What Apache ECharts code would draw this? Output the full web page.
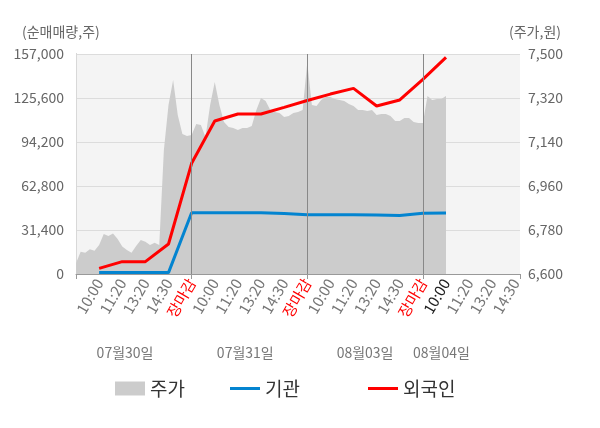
<!DOCTYPE html>
<html>
<head>
<meta charset="utf-8">
<script src="https://cdn.jsdelivr.net/npm/echarts@6/dist/echarts.min.js"></script>
<style>
html,body{margin:0;padding:0;background:#fff;}
#chart{width:600px;height:428px;}
</style>
</head>
<body>
<div id="chart"></div>
<script>
// x축 시간 라벨 (슬롯 1~19)
var timeLabels = ['10:00','11:20','13:20','14:30','장마감',
                  '10:00','11:20','13:20','14:30','장마감',
                  '10:00','11:20','13:20','14:30','장마감',
                  '10:00','11:20','13:20','14:30'];
var dayLabels = ['07월30일','07월31일','08월03일','08월04일'];
var dayLabelPos = [2.12, 7.32, 12.5, 15.8];

// 주가 (0.2 슬롯 간격)
var priceStep = 0.2;
var price = [
  6644, 6691, 6687, 6701, 6695, 6719, 6764, 6755, 6766, 6743,
  6712, 6698, 6687, 6715, 6739, 6732, 6719, 6728, 6719, 7107,
  7291, 7394, 7250, 7173, 7165, 7169, 7214, 7210, 7160, 7291,
  7385, 7291, 7222, 7201, 7197, 7189, 7197, 7197, 7205, 7271,
  7320, 7308, 7271, 7263, 7259, 7242, 7246, 7259, 7263, 7271,
  7465, 7291, 7287, 7312, 7324, 7324, 7316, 7312, 7308, 7295,
  7287, 7271, 7271, 7267, 7271, 7250, 7255, 7255, 7246, 7226,
  7226, 7238, 7238, 7222, 7218, 7218, 7328, 7312, 7316, 7316,
  7328
];

// 순매매량 (슬롯 1~16)
var institution = [1000, 1000, 1000, 1000, 43750, 43750, 43750, 43750, 43200, 42300,
                   42300, 42300, 42100, 41800, 43300, 43500];
var foreign = [4000, 8800, 8800, 21400, 79000, 109200, 114200, 114200, 118900, 123800,
               128400, 132500, 119900, 124200, 138900, 154600];

var priceTicks = [6600, 6780, 6960, 7140, 7320, 7500];

var font = 'Noto Sans CJK KR';
var xMax = 19.2;
var lineIcon = 'path://M0,0H30V3H0Z';

function comma(v) { return String(v).replace(/\B(?=(\d{3})+(?!\d))/g, ','); }

var priceData = price.map(function (p, i) { return [+(i * priceStep).toFixed(2), p]; });
var instData = institution.map(function (v, i) { return [i + 1, v]; });
var forData = foreign.map(function (v, i) { return [i + 1, v]; });
var lastIdx = foreign.length;

function legendAt(left, item) {
  return {
    left: left, top: 374,
    itemWidth: 30, itemHeight: 14,
    textStyle: { fontSize: 19, color: '#333', fontFamily: font },
    data: [item]
  };
}

var chart = echarts.init(document.getElementById('chart'));
var option = {
  animation: false,
  textStyle: { fontFamily: font },
  title: [
    { text: '(순매매량,주)', left: 22, top: 25, padding: 0,
      textStyle: { fontSize: 14, fontWeight: 'normal', color: '#666', fontFamily: font } },
    { text: '(주가,원)', left: 509, top: 25, padding: 0,
      textStyle: { fontSize: 14, fontWeight: 'normal', color: '#666', fontFamily: font } }
  ],
  grid: {
    left: 76, right: 80, top: 54, bottom: 154,
    show: true, backgroundColor: '#f4f4f4', borderWidth: 0
  },
  legend: [
    legendAt(110, { name: '주가', icon: 'rect' }),
    legendAt(225, { name: '기관', icon: lineIcon }),
    legendAt(363, { name: '외국인', icon: lineIcon })
  ],
  xAxis: [{
    type: 'value', min: 0, max: xMax,
    axisLine: { show: true, lineStyle: { color: '#999' } },
    axisTick: { show: true, customValues: [0, 5, 10, 15, xMax], length: 5, lineStyle: { color: '#999' } },
    splitLine: { show: false },
    axisLabel: {
      customValues: timeLabels.map(function (t, i) { return i + 1; }),
      rotate: 60, fontSize: 15, color: '#777', margin: 6, fontFamily: font,
      formatter: function (v) {
        var k = Math.round(v);
        var t = timeLabels[k - 1];
        if (t === '장마감') return '{red|' + t + '}';
        if (k === lastIdx) return '{dark|' + t + '}';
        return t;
      },
      rich: {
        red: { color: '#ff0000', fontSize: 15, fontFamily: font },
        dark: { color: '#222', fontSize: 15, fontFamily: font }
      }
    }
  }, {
    type: 'value', min: 0, max: xMax, position: 'bottom', offset: 64,
    axisLine: { show: false }, axisTick: { show: false }, splitLine: { show: false },
    axisLabel: {
      customValues: dayLabelPos, margin: 8, fontSize: 14, color: '#777', fontFamily: font,
      formatter: function (v) {
        for (var i = 0; i < dayLabelPos.length; i++) {
          if (Math.abs(dayLabelPos[i] - v) < 1e-6) return dayLabels[i];
        }
        return '';
      }
    }
  }],
  yAxis: [{
    type: 'value', min: 0, max: 157000, interval: 31400,
    axisLine: { show: true, lineStyle: { color: '#999' } },
    axisTick: { show: false },
    splitLine: { show: true, lineStyle: { color: '#dcdcdc' } },
    axisLabel: { fontSize: 14, color: '#666', margin: 12, fontFamily: font, formatter: comma }
  }, {
    type: 'value', min: 6600, max: 7500, position: 'right',
    axisLine: { show: true, lineStyle: { color: '#d8d8d8' } },
    axisTick: { show: false },
    splitLine: { show: false },
    axisLabel: { customValues: priceTicks, fontSize: 14, color: '#666', margin: 8, fontFamily: font, formatter: comma }
  }],
  series: [{
    name: '주가', type: 'line', xAxisIndex: 0, yAxisIndex: 1,
    data: priceData, showSymbol: false, symbol: 'none',
    itemStyle: { color: '#cccccc' },
    lineStyle: { width: 0, color: '#cccccc' },
    areaStyle: { color: '#cccccc', opacity: 1, origin: 'start' },
    markLine: {
      silent: true, symbol: 'none', label: { show: false },
      lineStyle: { color: '#888', width: 1, type: 'solid' },
      data: [{ xAxis: 5 }, { xAxis: 10 }, { xAxis: 15 }]
    }
  }, {
    name: '기관', type: 'line', xAxisIndex: 0, yAxisIndex: 0,
    data: instData, symbol: 'none',
    itemStyle: { color: '#0384d0' },
    lineStyle: { width: 3, color: '#0384d0' }
  }, {
    name: '외국인', type: 'line', xAxisIndex: 0, yAxisIndex: 0,
    data: forData, symbol: 'none',
    itemStyle: { color: '#ff0000' },
    lineStyle: { width: 3, color: '#ff0000' }
  }]
};
chart.setOption(option);
</script>
</body>
</html>
